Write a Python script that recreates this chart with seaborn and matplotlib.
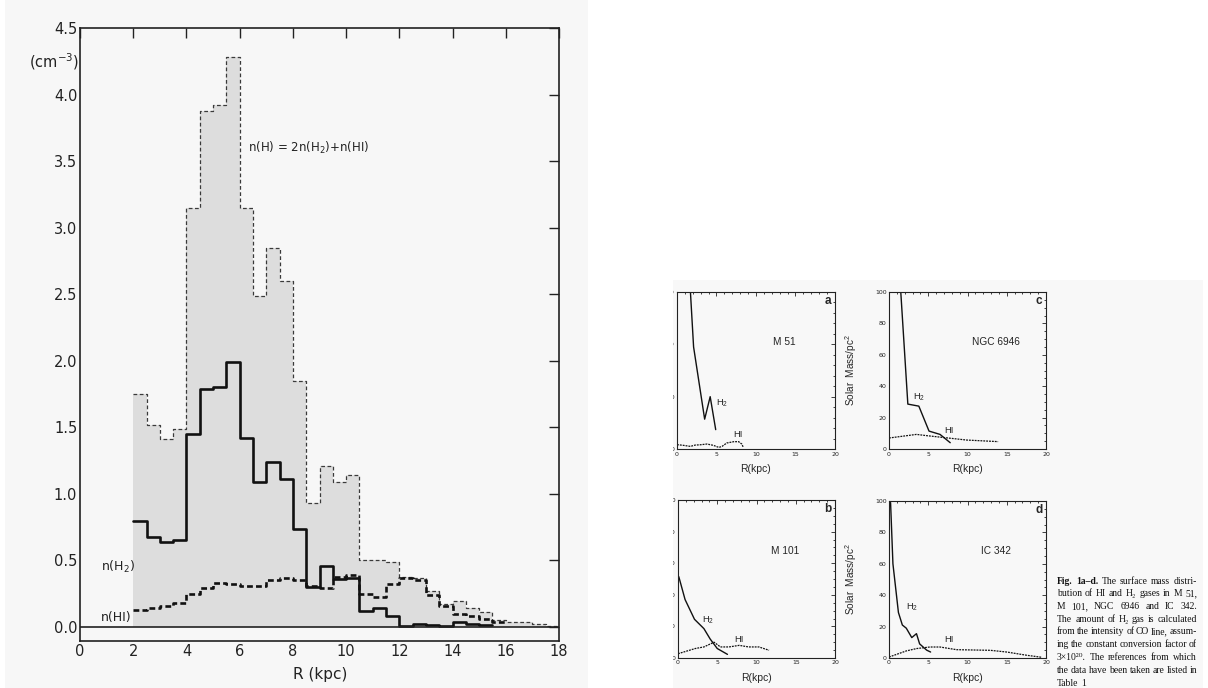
from __future__ import annotations

import matplotlib

matplotlib.use("Agg")
import matplotlib.pyplot as plt
import numpy as np
import pandas as pd
import seaborn as sns
from matplotlib.patches import Rectangle
from matplotlib.ticker import MultipleLocator

W, H = 1208, 688

# Left figure: volume densities in 0.5 kpc rings, first ring starts at R = 2 kpc
ring_start = 2.0
ring_width = 0.5
n_total = [1.75, 1.52, 1.41, 1.49, 3.15, 3.88, 3.92, 4.28, 3.15, 2.49, 2.85, 2.60,
           1.85, 0.93, 1.21, 1.09, 1.14, 0.50, 0.50, 0.49, 0.375, 0.37, 0.27, 0.17,
           0.195, 0.14, 0.11, 0.055, 0.04, 0.04, 0.025, 0.01]
n_h2 = [0.80, 0.68, 0.64, 0.65, 1.45, 1.79, 1.80, 1.99, 1.42, 1.09, 1.24, 1.11,
        0.74, 0.30, 0.46, 0.36, 0.37, 0.12, 0.14, 0.08, 0.01, 0.02, 0.015, 0.01,
        0.04, 0.02, 0.015]
n_hi = [0.13, 0.14, 0.16, 0.18, 0.25, 0.29, 0.33, 0.32, 0.31, 0.305, 0.355, 0.37,
        0.355, 0.31, 0.29, 0.375, 0.39, 0.245, 0.225, 0.32, 0.37, 0.35, 0.24, 0.16,
        0.10, 0.08, 0.06, 0.04]
left_yticks = [0.0, 0.5, 1.0, 1.5, 2.0, 2.5, 3.0, 3.5, 4.0, 4.5]
left_xticks = [0, 2, 4, 6, 8, 10, 12, 14, 16, 18]

# Right figure: surface mass (Solar Mass/pc^2) against R (kpc)
m51_h2_r = [1.7, 2.1, 3.5, 4.2, 4.9]
m51_h2 = [300, 195, 57, 100, 37]
m51_hi_r = [0.0, 0.2, 0.8, 1.7, 2.3, 2.9, 3.8, 4.6, 5.3, 5.7, 6.3, 7.2, 7.8, 8.2, 8.4]
m51_hi = [8, 8, 7, 5, 7.5, 8, 9.5, 7, 3, 5, 11.5, 14, 14, 9.5, 3]

m101_h2_r = [0.1, 0.9, 2.1, 3.3, 4.1, 5.0, 6.3]
m101_h2 = [51.5, 37, 24.5, 18.6, 12, 6, 2.3]
m101_hi_r = [0.0, 2.2, 3.3, 4.6, 5.4, 6.5, 7.8, 9.0, 10.3, 11.6]
m101_hi = [2.7, 6, 7, 10, 7, 7, 8, 7, 7, 4.9]

ngc6946_h2_r = [1.5, 2.4, 3.8, 5.1, 6.5, 7.8]
ngc6946_h2 = [100, 28.6, 27.3, 11.4, 9.3, 4.0]
ngc6946_hi_r = [0.0, 3.5, 4.8, 9.9, 13.9]
ngc6946_hi = [7, 9.3, 8.5, 5.7, 4.7]

ic342_h2_r = [0.2, 0.5, 1.2, 1.7, 2.2, 2.9, 3.5, 3.9, 4.8, 5.3]
ic342_h2 = [99, 60, 29, 21, 19, 13, 15.5, 9, 5, 3.8]
ic342_hi_r = [0.0, 2.2, 3.5, 5.2, 6.5, 8.6, 12.9, 15.0, 17.6, 19.4]
ic342_hi = [0.6, 4.5, 6, 7, 7, 5.3, 4.9, 3.8, 1.7, 0.5]

caption_lines = [
    "Fig. 1a–d. The surface mass distri-",
    "bution of HI and H₂ gases in M 51,",
    "M 101, NGC 6946 and IC 342.",
    "The amount of H₂ gas is calculated",
    "from the intensity of CO line, assum-",
    "ing the constant conversion factor of",
    "3×10²⁰. The references from which",
    "the data have been taken are listed in",
    "Table 1",
]

SERIF = ["Liberation Serif", "DejaVu Serif"]
SANS = ["Liberation Sans", "DejaVu Sans"]


def rings(values):
    edges = ring_start + ring_width * np.arange(len(values) + 1)
    return pd.DataFrame({"R": edges, "n": list(values) + [values[-1]]})


def box(px_left, px_top, px_w, px_h):
    return [px_left / W, 1 - (px_top + px_h) / H, px_w / W, px_h / H]


def small_panel(fig, rect, h2_r, h2, hi_r, hi, ymax, name, letter, h2_xy, hi_xy, ylabel):
    ax = fig.add_axes(rect)
    ax.set_facecolor("none")
    sns.lineplot(x=h2_r, y=h2, ax=ax, color="#111111", lw=1.0, errorbar=None, sort=False)
    sns.lineplot(x=hi_r, y=hi, ax=ax, color="#111111", lw=0.9, errorbar=None, sort=False,
                 linestyle=(0, (1.5, 0.8)))
    ax.set_xlim(0, 20)
    ax.set_ylim(0, ymax)
    ax.xaxis.set_major_locator(MultipleLocator(5))
    ax.xaxis.set_minor_locator(MultipleLocator(1))
    ax.yaxis.set_major_locator(MultipleLocator(ymax / (3 if ymax > 100 else 5)))
    ax.yaxis.set_minor_locator(MultipleLocator(ymax / (15 if ymax > 100 else 20)))
    ax.tick_params(which="both", direction="in", top=True, right=True,
                   labelsize=4.5, pad=1.8, width=0.6, colors="#222222")
    ax.tick_params(which="major", length=3.2)
    ax.tick_params(which="minor", length=1.7)
    for sp in ax.spines.values():
        sp.set_linewidth(0.8)
        sp.set_color("#222222")
    ax.set_xlabel("R(kpc)", fontsize=7.5, family=SANS)
    ax.xaxis.set_label_coords(0.5, -0.095)
    if ylabel:
        ax.set_ylabel("Solar  Mass/pc$^2$", fontsize=7.2, family=SANS)
        ax.yaxis.set_label_coords(-0.19, 0.5)
    else:
        ax.set_ylabel("")
    ax.text(0.68, 0.68, name, transform=ax.transAxes, ha="center", va="center",
            fontsize=7.3, family=SANS)
    ax.text(0.955, 0.94, letter, transform=ax.transAxes, ha="center", va="center",
            fontsize=8.5, weight="bold", family=SANS)
    ax.text(h2_xy[0], h2_xy[1] * ymax / 100, "H$_2$", ha="left", va="center",
            fontsize=6.8, family=SANS)
    ax.text(hi_xy[0], hi_xy[1] * ymax / 100, "HI", ha="center", va="center",
            fontsize=6.8, family=SANS)
    return ax


def main() -> int:
    sns.set_style("white")
    plt.rcParams["font.family"] = ["DejaVu Sans"]
    plt.rcParams["mathtext.default"] = "regular"

    fig = plt.figure(figsize=(W / 100, H / 100), dpi=100)
    fig.patch.set_facecolor("white")
    # scanned page backgrounds
    fig.add_artist(Rectangle((5 / W, 0), 583 / W, 1, transform=fig.transFigure,
                             facecolor="#f7f7f7", edgecolor="none", zorder=-2))
    fig.add_artist(Rectangle((673 / W, 0), 530 / W, 1 - 280 / H, transform=fig.transFigure,
                             facecolor="#f8f8f8", edgecolor="none", zorder=-2))

    # ---- left: n(H), n(H2), n(HI) histogram
    ax = fig.add_axes(box(80, 28, 479, 613))
    ax.set_facecolor("none")
    tot = rings(n_total)
    h2 = rings(n_h2)
    hi = rings(n_hi)
    ax.fill_between(tot["R"], 0, tot["n"], step="post", color="#dddddd", lw=0, zorder=1)
    sns.lineplot(data=tot, x="R", y="n", ax=ax, drawstyle="steps-post", errorbar=None,
                 color="#3a3a3a", lw=0.9, linestyle=(0, (3, 2)), zorder=3)
    sns.lineplot(data=hi, x="R", y="n", ax=ax, drawstyle="steps-post", errorbar=None,
                 color="#111111", lw=1.9, linestyle=(0, (2.2, 1.2)), zorder=4)
    sns.lineplot(data=h2, x="R", y="n", ax=ax, drawstyle="steps-post", errorbar=None,
                 color="#111111", lw=1.9, zorder=5)
    ax.axhline(0, color="#222222", lw=1.2, zorder=6)
    ax.set_xlim(0, 18)
    ax.set_ylim(-0.105, 4.5)
    ax.set_xticks(left_xticks)
    ax.set_xticklabels([str(v) for v in left_xticks])
    ax.set_yticks(left_yticks)
    ax.set_yticklabels([f"{v:.1f}" for v in left_yticks])
    ax.tick_params(direction="in", top=True, right=True, length=7, width=1.0,
                   labelsize=10.5, pad=2, colors="#222222")
    for sp in ax.spines.values():
        sp.set_linewidth(1.2)
        sp.set_color("#222222")
    ax.set_xlabel("")
    ax.set_ylabel("")
    ax.text(6.3, 3.6, "n(H) = 2n(H$_2$)+n(HI)", ha="left", va="center", fontsize=8.5,
            color="#222222")
    ax.text(0.8, 0.45, "n(H$_2$)", ha="left", va="center", fontsize=9, color="#222222")
    ax.text(0.8, 0.07, "n(HI)", ha="left", va="center", fontsize=9, color="#222222")
    fig.text(54 / W, 1 - 62 / H, "(cm$^{-3}$)", ha="center", va="center", fontsize=10.5,
             color="#222222")
    fig.text(320 / W, 1 - 675 / H, "R (kpc)", ha="center", va="center", fontsize=11,
             color="#222222")

    # ---- right: four small panels
    small_panel(fig, box(677, 292, 158, 157), m51_h2_r, m51_h2, m51_hi_r, m51_hi, 300,
                "M 51", "a", (5.0, 29), (7.7, 9), False)
    small_panel(fig, box(678, 500, 157, 158), m101_h2_r, m101_h2, m101_hi_r, m101_hi, 100,
                "M 101", "b", (3.1, 24), (7.7, 12), False)
    small_panel(fig, box(889, 292, 157, 157), ngc6946_h2_r, ngc6946_h2, ngc6946_hi_r,
                ngc6946_hi, 100, "NGC 6946", "c", (3.0, 33), (7.6, 12), True)
    small_panel(fig, box(889, 501, 157, 157), ic342_h2_r, ic342_h2, ic342_hi_r, ic342_hi,
                100, "IC 342", "d", (2.2, 32.5), (7.65, 12), True)

    # page edge crops the y tick labels of panels a and b
    fig.add_artist(Rectangle((590 / W, 0), 83 / W, 1 - 270 / H, transform=fig.transFigure,
                             facecolor="white", edgecolor="none", zorder=5))

    # ---- caption, justified line by line
    renderer = fig.canvas.get_renderer()
    x0, x1 = 1057, 1197
    for i, line in enumerate(caption_lines):
        y = 1 - (581 + 12.75 * i) / H
        words = line.split(" ")
        texts = []
        for j, word in enumerate(words):
            weight = "bold" if i == 0 and j < 2 else "normal"
            texts.append(fig.text(0, y, word, fontsize=6.9, family=SERIF, weight=weight,
                                  ha="left", va="center", color="#111111"))
        widths = [t.get_window_extent(renderer).width for t in texts]
        if i < len(caption_lines) - 1 and len(words) > 1:
            gap = max(1.2, (x1 - x0 - sum(widths)) / (len(words) - 1))
        else:
            gap = 2.3
        x = x0
        for t, wd in zip(texts, widths):
            t.set_x(x / W)
            x += wd + gap

    fig.savefig("out.png", dpi=100, facecolor=fig.get_facecolor())
    plt.close(fig)
    return 0


if __name__ == "__main__":
    raise SystemExit(main())
